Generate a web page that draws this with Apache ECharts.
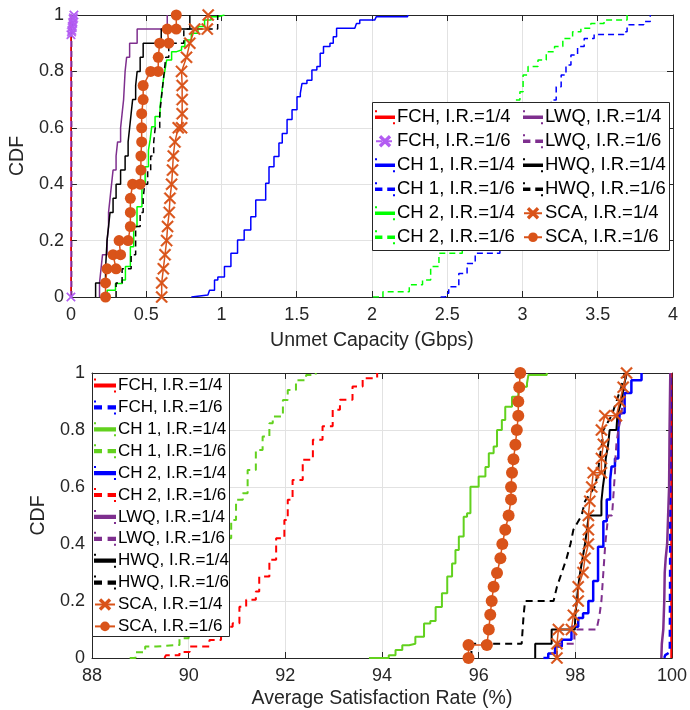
<!DOCTYPE html>
<html>
<head>
<meta charset="utf-8">
<script src="https://cdn.jsdelivr.net/npm/echarts@6/dist/echarts.min.js"></script>
<style>html,body{margin:0;padding:0;background:#fff}#c{width:690px;height:710px}</style>
</head>
<body>
<div id="c"></div>
<script>
// ---------- DATA: top panel (Unmet Capacity, Gbps) ----------
const capXTicks = [0, 0.5, 1, 1.5, 2, 2.5, 3, 3.5, 4];
const cdfTicks = [0, 0.2, 0.4, 0.6, 0.8, 1];
const satXTicks = [88, 90, 92, 94, 96, 98, 100];

const capFCH4_x = [0, 0];
const capFCH4_y = [0, 1];
const capFCH6_x = [0, 0, 0.004, 0.006, 0.008, 0.01, 0.012, 0.013, 0.015, 0.017, 0.02];
const capFCH6_y = [0, 0.93, 0.94, 0.945, 0.955, 0.96, 0.97, 0.975, 0.985, 0.99, 1.0];
const capCH1_4_x = [0.80, 0.811, 0.91, 0.921, 0.954, 0.976, 1.02, 1.063, 1.107, 1.151, 1.195, 1.228, 1.272, 1.294, 1.316, 1.349, 1.382, 1.404, 1.436, 1.469, 1.502, 1.524, 1.535, 1.568, 1.601, 1.634, 1.656, 1.678, 1.721, 1.743, 1.765, 1.886, 1.897, 1.919, 2.018, 2.029, 2.237];
const capCH1_4_y = [0, 0.007, 0.013, 0.024, 0.06, 0.071, 0.108, 0.155, 0.202, 0.238, 0.285, 0.344, 0.344, 0.403, 0.462, 0.498, 0.546, 0.58, 0.629, 0.664, 0.71, 0.722, 0.757, 0.769, 0.805, 0.817, 0.864, 0.888, 0.9, 0.923, 0.953, 0.953, 0.97, 0.982, 0.982, 0.994, 1.0];
const capCH1_6_x = [2.456, 2.489, 2.51, 2.577, 2.632, 2.686, 2.85, 3.0, 3.12, 3.191, 3.224, 3.257, 3.289, 3.322, 3.366, 3.41, 3.476, 3.673, 3.695, 3.805, 3.849];
const capCH1_6_y = [0, 0.013, 0.036, 0.083, 0.119, 0.155, 0.3, 0.45, 0.6, 0.699, 0.746, 0.787, 0.823, 0.858, 0.888, 0.917, 0.931, 0.941, 0.965, 0.977, 1.0];
const capCH2_4_x = [0.24, 0.241, 0.274, 0.296, 0.34, 0.362, 0.395, 0.417, 0.439, 0.472, 0.493, 0.515, 0.526, 0.537, 0.559, 0.592, 0.603, 0.614, 0.625, 0.636, 0.669, 0.702, 0.735, 0.757, 0.8, 0.844, 0.888, 0.932, 0.976, 1.02];
const capCH2_4_y = [0, 0.024, 0.024, 0.048, 0.06, 0.108, 0.178, 0.249, 0.32, 0.403, 0.462, 0.521, 0.557, 0.604, 0.64, 0.675, 0.722, 0.77, 0.805, 0.84, 0.87, 0.876, 0.888, 0.911, 0.935, 0.959, 0.982, 0.994, 1.0, 1.0];
const capCH2_6_x = [2.007, 2.073, 2.248, 2.336, 2.39, 2.445, 2.6, 2.75, 2.85, 2.95, 2.983, 3.004, 3.037, 3.103, 3.158, 3.213, 3.268, 3.333, 3.388, 3.454, 3.542, 3.629, 3.695];
const capCH2_6_y = [0, 0.019, 0.043, 0.06, 0.108, 0.155, 0.3, 0.45, 0.58, 0.699, 0.728, 0.787, 0.817, 0.84, 0.87, 0.888, 0.917, 0.941, 0.953, 0.97, 0.982, 0.982, 1.0];
const capLWQ4_x = [0.19, 0.19, 0.2, 0.21, 0.24, 0.25, 0.25, 0.26, 0.27, 0.28, 0.30, 0.31, 0.33, 0.34, 0.35, 0.355, 0.36, 0.37, 0.39, 0.44, 0.64];
const capLWQ4_y = [0, 0.05, 0.1, 0.15, 0.2, 0.25, 0.3, 0.35, 0.4, 0.45, 0.5, 0.55, 0.6, 0.65, 0.7, 0.75, 0.8, 0.85, 0.9, 0.95, 1.0];
const capLWQ6_x = [0.005, 0.005];
const capLWQ6_y = [0, 1];
const capHWQ4_x = [0.164, 0.164, 0.23, 0.235, 0.24, 0.25, 0.26, 0.28, 0.30, 0.33, 0.36, 0.38, 0.39, 0.40, 0.41, 0.43, 0.44, 0.46, 0.48, 0.6, 0.79];
const capHWQ4_y = [0, 0.05, 0.1, 0.15, 0.2, 0.25, 0.3, 0.35, 0.4, 0.45, 0.5, 0.55, 0.6, 0.65, 0.7, 0.75, 0.8, 0.85, 0.9, 0.95, 1.0];
const capHWQ6_x = [0.30, 0.30, 0.34, 0.40, 0.43, 0.43, 0.46, 0.48, 0.49, 0.51, 0.53, 0.55, 0.56, 0.59, 0.60, 0.61, 0.62, 0.63, 0.65, 0.75, 0.975];
const capHWQ6_y = [0, 0.05, 0.1, 0.15, 0.2, 0.25, 0.3, 0.35, 0.4, 0.45, 0.5, 0.55, 0.6, 0.65, 0.7, 0.75, 0.8, 0.85, 0.9, 0.95, 1.0];
const capSCA4_x = [0.603, 0.603, 0.614, 0.625, 0.636, 0.642, 0.653, 0.658, 0.669, 0.675, 0.68, 0.691, 0.713, 0.735, 0.739, 0.739, 0.739, 0.735, 0.768, 0.79, 0.822, 0.906, 0.912];
const capSCA4_y = [0, 0.05, 0.1, 0.15, 0.2, 0.25, 0.3, 0.35, 0.4, 0.45, 0.5, 0.55, 0.6, 0.6, 0.65, 0.7, 0.75, 0.8, 0.85, 0.9, 0.95, 0.95, 1.0];
const capSCA6_x = [0.23, 0.23, 0.24, 0.30, 0.28, 0.33, 0.32, 0.38, 0.395, 0.395, 0.395, 0.41, 0.46, 0.465, 0.465, 0.47, 0.47, 0.47, 0.48, 0.48, 0.53, 0.58, 0.58, 0.59, 0.65, 0.64, 0.70, 0.70];
const capSCA6_y = [0, 0.05, 0.1, 0.1, 0.15, 0.15, 0.2, 0.2, 0.25, 0.3, 0.35, 0.4, 0.4, 0.45, 0.5, 0.55, 0.6, 0.65, 0.7, 0.75, 0.8, 0.8, 0.85, 0.9, 0.9, 0.95, 0.95, 1.0];

// ---------- DATA: bottom panel (Average Satisfaction Rate, %) ----------
const satFCH4_x = [99.985, 99.985];
const satFCH4_y = [0, 1];
const satFCH6_x = [99.84, 99.86, 99.955, 99.965, 99.97];
const satFCH6_y = [0, 0.01, 0.02, 0.5, 1.0];
const satCH1_4_x = [93.73, 94.14, 94.28, 94.42, 94.56, 94.69, 94.87, 95.0, 95.11, 95.24, 95.35, 95.45, 95.52, 95.59, 95.69, 95.76, 95.83, 96.0, 96.14, 96.21, 96.31, 96.38, 96.48, 96.55, 96.69, 96.82, 97.0, 97.03, 97.41];
const satCH1_4_y = [0, 0.01, 0.028, 0.045, 0.05, 0.075, 0.121, 0.13, 0.179, 0.227, 0.286, 0.332, 0.379, 0.426, 0.496, 0.508, 0.601, 0.637, 0.67, 0.718, 0.742, 0.8, 0.835, 0.882, 0.917, 0.952, 0.964, 0.993, 1.0];
const satCH1_6_x = [88.78, 88.9, 89.1, 89.33, 89.81, 90.0, 90.2, 90.5, 90.7, 90.88, 90.98, 91.12, 91.22, 91.39, 91.53, 91.67, 91.74, 91.88, 91.95, 92.05, 92.22, 92.43, 92.63];
const satCH1_6_y = [0, 0.02, 0.04, 0.046, 0.069, 0.1, 0.2, 0.35, 0.42, 0.484, 0.555, 0.578, 0.66, 0.73, 0.777, 0.824, 0.847, 0.847, 0.905, 0.94, 0.975, 0.993, 1.0];
const satCH2_4_x = [97.34, 97.44, 97.58, 97.72, 97.92, 98.06, 98.16, 98.27, 98.37, 98.47, 98.58, 98.65, 98.72, 98.75, 98.82, 98.89, 98.89, 98.92, 99.02, 99.16, 99.37];
const satCH2_4_y = [0, 0.016, 0.04, 0.064, 0.11, 0.14, 0.157, 0.2, 0.27, 0.39, 0.48, 0.556, 0.625, 0.672, 0.70, 0.753, 0.8, 0.86, 0.93, 0.975, 1.0];
const satCH2_6_x = [89.5, 89.53, 89.81, 90.02, 90.43, 90.67, 90.91, 91.05, 91.19, 91.39, 91.46, 91.67, 91.81, 91.98, 92.05, 92.15, 92.36, 92.57, 92.77, 92.98, 93.13, 93.39, 93.6, 93.9];
const satCH2_6_y = [0, 0.01, 0.021, 0.04, 0.063, 0.11, 0.122, 0.18, 0.204, 0.233, 0.286, 0.345, 0.42, 0.484, 0.555, 0.625, 0.696, 0.766, 0.813, 0.871, 0.906, 0.953, 0.982, 1.0];
const satLWQ4_x = [99.78, 99.79, 99.82, 99.84, 99.85, 99.87, 99.9, 99.92, 99.94, 99.95, 99.965];
const satLWQ4_y = [0, 0.05, 0.1, 0.2, 0.3, 0.35, 0.4, 0.5, 0.6, 0.8, 1.0];
const satLWQ6_x = [97.62, 97.62, 97.98, 97.98, 98.44, 98.5, 98.54, 98.56, 98.58, 98.6, 98.62, 98.65, 98.68, 98.76, 98.78, 98.8, 98.82, 98.83, 98.85, 98.89, 98.95, 98.98, 99.02, 99.06];
const satLWQ6_y = [0, 0.05, 0.05, 0.1, 0.1, 0.15, 0.2, 0.25, 0.3, 0.35, 0.4, 0.45, 0.5, 0.5, 0.55, 0.6, 0.65, 0.7, 0.75, 0.8, 0.85, 0.9, 0.95, 1.0];
const satHWQ4_x = [97.17, 97.17, 97.51, 97.51, 97.99, 98.0, 98.03, 98.06, 98.1, 98.15, 98.2, 98.24, 98.28, 98.54, 98.54, 98.57, 98.61, 98.63, 98.68, 98.71, 98.85, 98.87, 98.95, 99.0, 99.06];
const satHWQ4_y = [0, 0.05, 0.05, 0.1, 0.1, 0.15, 0.2, 0.25, 0.3, 0.35, 0.4, 0.45, 0.5, 0.5, 0.55, 0.6, 0.65, 0.7, 0.75, 0.8, 0.8, 0.85, 0.9, 0.95, 1.0];
const satHWQ6_x = [95.85, 95.85, 96.89, 96.91, 96.93, 96.96, 97.55, 97.62, 97.72, 97.82, 97.9, 97.96, 98.13, 98.2, 98.4, 98.47, 98.5, 98.55, 98.58, 98.75, 98.85, 98.95, 99.02];
const satHWQ6_y = [0, 0.05, 0.05, 0.1, 0.15, 0.2, 0.2, 0.25, 0.3, 0.35, 0.4, 0.45, 0.5, 0.55, 0.6, 0.65, 0.7, 0.75, 0.8, 0.85, 0.9, 0.95, 1.0];
const satSCA4_x = [97.62, 97.62, 97.65, 97.92, 97.96, 98.06, 98.06, 98.16, 98.2, 98.27, 98.27, 98.27, 98.3, 98.34, 98.37, 98.54, 98.54, 98.58, 98.54, 98.61, 98.85, 98.92, 98.99, 99.06];
const satSCA4_y = [0, 0.05, 0.1, 0.1, 0.15, 0.2, 0.25, 0.3, 0.35, 0.4, 0.45, 0.5, 0.55, 0.6, 0.65, 0.65, 0.7, 0.75, 0.8, 0.85, 0.85, 0.9, 0.95, 1.0];
const satSCA6_x = [95.79, 95.79, 96.17, 96.21, 96.24, 96.27, 96.31, 96.38, 96.45, 96.49, 96.55, 96.62, 96.67, 96.67, 96.69, 96.72, 96.76, 96.79, 96.82, 96.82, 96.84, 96.86];
const satSCA6_y = [0, 0.046, 0.046, 0.1, 0.152, 0.2, 0.25, 0.298, 0.35, 0.4, 0.45, 0.5, 0.556, 0.6, 0.65, 0.697, 0.748, 0.8, 0.85, 0.9, 0.95, 1.0];

const topNames = ['FCH, I.R.=1/4','FCH, I.R.=1/6','CH 1, I.R.=1/4','CH 1, I.R.=1/6','CH 2, I.R.=1/4','CH 2, I.R.=1/6','LWQ, I.R.=1/4','LWQ, I.R.=1/6','HWQ, I.R.=1/4','HWQ, I.R.=1/6','SCA, I.R.=1/4','SCA, I.R.=1/6'];

// ---------- build ----------
const FONT = '"Liberation Sans", Arial, Helvetica, sans-serif';
const TXT = '#262626';
const XSYM = 'path://M1,0L5,4L9,0L10,1L6,5L10,9L9,10L5,6L1,10L0,9L4,5L0,1Z';
const C = {red:'#ff0000', blue:'#0000ff', green:'#00ff00', green2:'#62d11e', purple:'#7e2f8e', lpurple:'#b35cf2', black:'#000000', orange:'#d95319'};

function pts(xs, ys){ return xs.map((x,i)=>[x, ys[i]]); }
function ser(name, xs, ys, color, o){
  o = o || {};
  return {
    type:'line', name:name, data:pts(xs, ys),
    xAxisIndex:o.g ? 2 : 0, yAxisIndex:o.g ? 2 : 0,
    step:o.step || false, smooth:false,
    symbol:o.symbol || 'none', symbolSize:o.size || 10, showSymbol:!!o.symbol,
    lineStyle:{color:color, width:o.w || 1.5, type:o.dash ? (o.g ? [7,5] : [6,4]) : 'solid'},
    itemStyle:{color:color, borderColor:color, borderWidth:o.symbol === 'circle' ? 0 : 0.5},
    clip:o.clip === false ? false : true,
    emphasis:{disabled:true}, silent:true, animation:false
  };
}
const S = ' '; // suffix keeps bottom-panel names distinct from the top-panel ones
const series = [
  ser(topNames[0], capFCH4_x, capFCH4_y, C.red, {}),
  ser(topNames[1], capFCH6_x, capFCH6_y, C.lpurple, {dash:true, symbol:XSYM, size:9, clip:false}),
  ser(topNames[2], capCH1_4_x, capCH1_4_y, C.blue, {step:'end'}),
  ser(topNames[3], capCH1_6_x, capCH1_6_y, C.blue, {step:'end', dash:true}),
  ser(topNames[4], capCH2_4_x, capCH2_4_y, C.green, {step:'end'}),
  ser(topNames[5], capCH2_6_x, capCH2_6_y, C.green, {step:'end', dash:true}),
  ser(topNames[6], capLWQ4_x, capLWQ4_y, C.purple, {step:'end'}),
  ser(topNames[7], capLWQ6_x, capLWQ6_y, C.purple, {dash:true}),
  ser(topNames[8], capHWQ4_x, capHWQ4_y, C.black, {step:'end'}),
  ser(topNames[9], capHWQ6_x, capHWQ6_y, C.black, {step:'end', dash:true}),
  ser(topNames[10], capSCA4_x, capSCA4_y, C.orange, {symbol:XSYM, size:12}),
  ser(topNames[11], capSCA6_x, capSCA6_y, C.orange, {symbol:'circle', size:11}),

  ser(topNames[0]+S, satFCH4_x, satFCH4_y, C.red, {g:1, w:2}),
  ser(topNames[1]+S, satFCH6_x, satFCH6_y, C.blue, {g:1, w:2.5, dash:true}),
  ser(topNames[2]+S, satCH1_4_x, satCH1_4_y, C.green2, {g:1, w:2, step:'end'}),
  ser(topNames[3]+S, satCH1_6_x, satCH1_6_y, C.green2, {g:1, w:2, step:'end', dash:true}),
  ser(topNames[4]+S, satCH2_4_x, satCH2_4_y, C.blue, {g:1, w:2.5, step:'end'}),
  ser(topNames[5]+S, satCH2_6_x, satCH2_6_y, C.red, {g:1, w:2, step:'end', dash:true}),
  ser(topNames[6]+S, satLWQ4_x, satLWQ4_y, C.purple, {g:1, w:2.5, step:'end'}),
  ser(topNames[7]+S, satLWQ6_x, satLWQ6_y, C.purple, {g:1, w:2, dash:true}),
  ser(topNames[8]+S, satHWQ4_x, satHWQ4_y, C.black, {g:1, w:2}),
  ser(topNames[9]+S, satHWQ6_x, satHWQ6_y, C.black, {g:1, w:2, dash:true}),
  ser(topNames[10]+S, satSCA4_x, satSCA4_y, C.orange, {g:1, w:1.5, symbol:XSYM, size:12}),
  ser(topNames[11]+S, satSCA6_x, satSCA6_y, C.orange, {g:1, w:1.5, symbol:'circle', size:12})
];

function fmt(v){ return String(+v.toFixed(2)); }
function xAx(grid, ticks, name, gap){
  const min = ticks[0], max = ticks[ticks.length-1], iv = ticks[1]-ticks[0];
  return [
    {type:'value', gridIndex:grid, min:min, max:max, interval:iv, position:'bottom',
     axisLine:{show:true, onZero:false, lineStyle:{color:TXT, width:1}},
     axisTick:{show:true, inside:true, length:6, lineStyle:{color:TXT}},
     axisLabel:{show:true, color:TXT, fontSize:18, fontFamily:FONT, margin:9, formatter:fmt, showMinLabel:true, showMaxLabel:true},
     splitLine:{show:true, lineStyle:{color:'#e2e2e2', width:1}},
     name:name, nameLocation:'middle', nameGap:gap,
     nameTextStyle:{color:TXT, fontSize:19.5, fontFamily:FONT}},
    {type:'value', gridIndex:grid, min:min, max:max, interval:iv, position:'top',
     axisLine:{show:true, onZero:false, lineStyle:{color:TXT, width:1}},
     axisTick:{show:true, inside:true, length:6, lineStyle:{color:TXT}},
     axisLabel:{show:false}, splitLine:{show:false}}
  ];
}
function yAx(grid, name){
  return [
    {type:'value', gridIndex:grid, min:cdfTicks[0], max:cdfTicks[cdfTicks.length-1], interval:cdfTicks[1]-cdfTicks[0], position:'left',
     axisLine:{show:true, onZero:false, lineStyle:{color:TXT, width:1}},
     axisTick:{show:true, inside:true, length:6, lineStyle:{color:TXT}},
     axisLabel:{show:true, color:TXT, fontSize:18, fontFamily:FONT, margin:7, formatter:fmt},
     splitLine:{show:true, lineStyle:{color:'#e2e2e2', width:1}},
     name:name, nameLocation:'middle', nameGap:33, nameRotate:90,
     nameTextStyle:{color:TXT, fontSize:19.5, fontFamily:FONT}},
    {type:'value', gridIndex:grid, min:cdfTicks[0], max:cdfTicks[cdfTicks.length-1], interval:cdfTicks[1]-cdfTicks[0], position:'right',
     axisLine:{show:true, onZero:false, lineStyle:{color:TXT, width:1}},
     axisTick:{show:true, inside:true, length:6, lineStyle:{color:TXT}},
     axisLabel:{show:false}, splitLine:{show:false}}
  ];
}

// legend icons: a horizontal line (solid or "- -"), padded to the full icon box
function lineIcon(W, H, lw, dashed){
  const y0 = (H - lw) / 2;
  const pad = 'M0,0h0.01v0.01h-0.01z' + 'M' + (W - 0.01) + ',' + (H - 0.01) + 'h0.01v0.01h-0.01z';
  let body;
  if (dashed) {
    const a = W * 0.3, b = W * 0.68;
    body = 'M0,' + y0 + 'h' + a + 'v' + lw + 'h-' + a + 'z' + 'M' + b + ',' + y0 + 'h' + (W - b) + 'v' + lw + 'h-' + (W - b) + 'z';
  } else {
    body = 'M0,' + y0 + 'h' + W + 'v' + lw + 'h-' + W + 'z';
  }
  return 'path://' + pad + body;
}
function legData(list, W, H, lw, suffix){
  return list.map(it => {
    const d = {name: it[0] + suffix};
    if (it[1] !== 'marker') d.icon = lineIcon(W, H, lw, it[1] === 'dash');
    return d;
  });
}
const topLegA = [[topNames[0],'solid'],[topNames[1],'marker'],[topNames[2],'solid'],[topNames[3],'dash'],[topNames[4],'solid'],[topNames[5],'dash']];
const topLegB = [[topNames[6],'solid'],[topNames[7],'dash'],[topNames[8],'solid'],[topNames[9],'dash'],[topNames[10],'marker'],[topNames[11],'marker']];
const botLeg = [[topNames[0],'solid'],[topNames[1],'dash'],[topNames[2],'solid'],[topNames[3],'dash'],[topNames[4],'solid'],[topNames[5],'dash'],[topNames[6],'solid'],[topNames[7],'dash'],[topNames[8],'solid'],[topNames[9],'dash'],[topNames[10],'marker'],[topNames[11],'marker']];

function leg(data, left, top, fs, gap, iw){
  return {
    show:true, orient:'vertical', left:left, top:top, data:data,
    itemWidth:iw, itemHeight:12, itemGap:gap, padding:0,
    selectedMode:false, z:6,
    textStyle:{color:'#000', fontSize:fs, fontFamily:FONT, lineHeight:fs+2, padding:[0,0,0,-2]},
    formatter:(n)=>n.trim(),
    inactiveColor:'#000'
  };
}

const option = {
  animation:false,
  backgroundColor:'#fff',
  grid:[
    {left:65, top:15, width:608, height:282},
    {left:92, top:373, width:582, height:285}
  ],
  xAxis:[].concat(xAx(0, capXTicks, 'Unmet Capacity (Gbps)', 34), xAx(1, satXTicks, 'Average Satisfaction Rate (%)', 31)),
  yAxis:[].concat(yAx(0, 'CDF'), yAx(1, 'CDF')),
  legend:[
    leg(legData(topLegA, 18, 12, 1.5, ''), 375, 107, 18.5, 3.5, 18),
    leg(legData(topLegB, 18, 12, 1.5, ''), 523, 107, 18.5, 3.5, 18),
    leg(legData(botLeg, 20, 12, 2.2, S), 94, 376, 17, 2.9, 20)
  ],
  graphic:[
    {type:'rect', z:5, shape:{x:372.5, y:102.5, width:297, height:148}, style:{fill:'#fff', stroke:'#262626', lineWidth:1}},
    {type:'rect', z:5, shape:{x:92.5, y:373.5, width:137, height:263}, style:{fill:'#fff', stroke:'#262626', lineWidth:1}}
  ],
  series:series
};
const chart = echarts.init(document.getElementById('c'), null, {renderer:'canvas'});
chart.setOption(option);
</script>
</body>
</html>
